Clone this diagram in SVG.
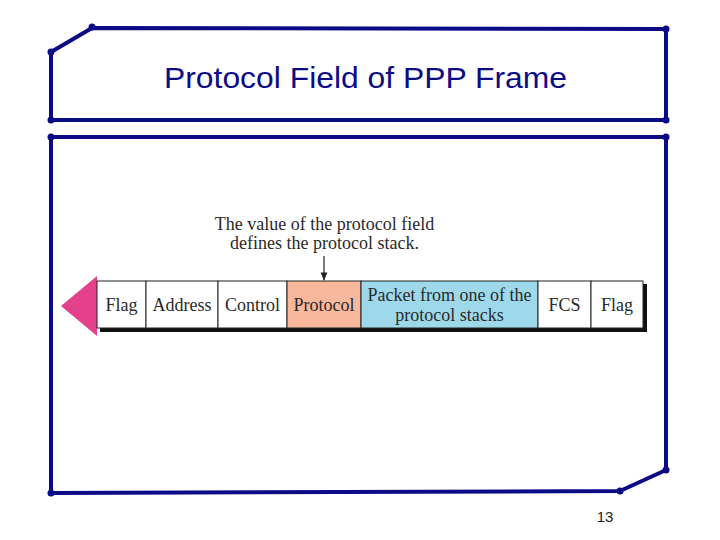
<svg xmlns="http://www.w3.org/2000/svg" width="720" height="540" viewBox="0 0 720 540">
<style>
.frm{fill:none;stroke:#0b0b86;stroke-width:4;stroke-linejoin:round}
.dot{fill:#0b0b86}
.cell{stroke:#222;stroke-width:1}
.lbl{font-family:"Liberation Serif",serif;font-size:18px;fill:#2a2a2a;text-anchor:middle}
</style>
<defs>
<marker id="ah" viewBox="0 0 10 10" refX="9" refY="5" markerWidth="7" markerHeight="8" orient="auto"><path d="M0,1 L10,5 L0,9 Z" fill="#222"/></marker>
</defs>
<rect width="720" height="540" fill="#fff"/>
<g id="title-box">
<path class="frm" d="M51,52 L92,28 L666,29 L666,120 L51,120 Z"/>
<g class="dot">
<circle cx="51" cy="52" r="3.5"/><circle cx="92" cy="27" r="3.5"/><circle cx="666" cy="29" r="3.5"/><circle cx="666" cy="120" r="3.5"/><circle cx="51" cy="120" r="3.5"/>
</g>
<text x="365.5" y="88" font-family="Liberation Sans,Arial,sans-serif" font-size="30" fill="#0b0b86" text-anchor="middle" textLength="403" lengthAdjust="spacingAndGlyphs">Protocol Field of PPP Frame</text>
</g>
<g id="content-box">
<path class="frm" d="M51,137 L666,137 L666,470 L620,491 L51,493 Z"/>
<g class="dot">
<circle cx="51" cy="137" r="3.5"/><circle cx="666" cy="137" r="3.5"/><circle cx="666" cy="470" r="3.5"/><circle cx="620" cy="491" r="3.5"/><circle cx="51" cy="493" r="3.5"/>
</g>
</g>
<g id="annotation">
<text class="lbl" x="324.5" y="230">The value of the protocol field</text>
<text class="lbl" x="324.5" y="249">defines the protocol stack.</text>
</g>
<g id="frame">
<rect x="100" y="284" width="547" height="48" fill="#111"/>
<polygon points="61,306 97,276 97,336" fill="#e5408c"/>
<g id="f-flag1"><rect class="cell" x="97" y="281" width="49" height="47" fill="#fff"/><text class="lbl" x="121.5" y="311">Flag</text></g>
<g id="f-address"><rect class="cell" x="146" y="281" width="72" height="47" fill="#fff"/><text class="lbl" x="182" y="311">Address</text></g>
<g id="f-control"><rect class="cell" x="218" y="281" width="69" height="47" fill="#fff"/><text class="lbl" x="252.5" y="311">Control</text></g>
<g id="f-protocol"><rect class="cell" x="287" y="281" width="74" height="47" fill="#f7b89b"/><text class="lbl" x="324" y="311">Protocol</text></g>
<g id="f-packet"><rect class="cell" x="361" y="281" width="177" height="47" fill="#9dd9ea"/><text class="lbl" x="449.5" y="301">Packet from one of the</text><text class="lbl" x="449.5" y="321">protocol stacks</text></g>
<g id="f-fcs"><rect class="cell" x="538" y="281" width="53" height="47" fill="#fff"/><text class="lbl" x="564.5" y="311">FCS</text></g>
<g id="f-flag2"><rect class="cell" x="591" y="281" width="52" height="47" fill="#fff"/><text class="lbl" x="617" y="311">Flag</text></g>
</g>
<g id="connectors">
<line x1="324" y1="256" x2="324" y2="280" stroke="#222" stroke-width="1.2" marker-end="url(#ah)"/>
</g>
<text x="605" y="522" font-family="Liberation Sans,Arial,sans-serif" font-size="15" fill="#222" text-anchor="middle">13</text>
</svg>
